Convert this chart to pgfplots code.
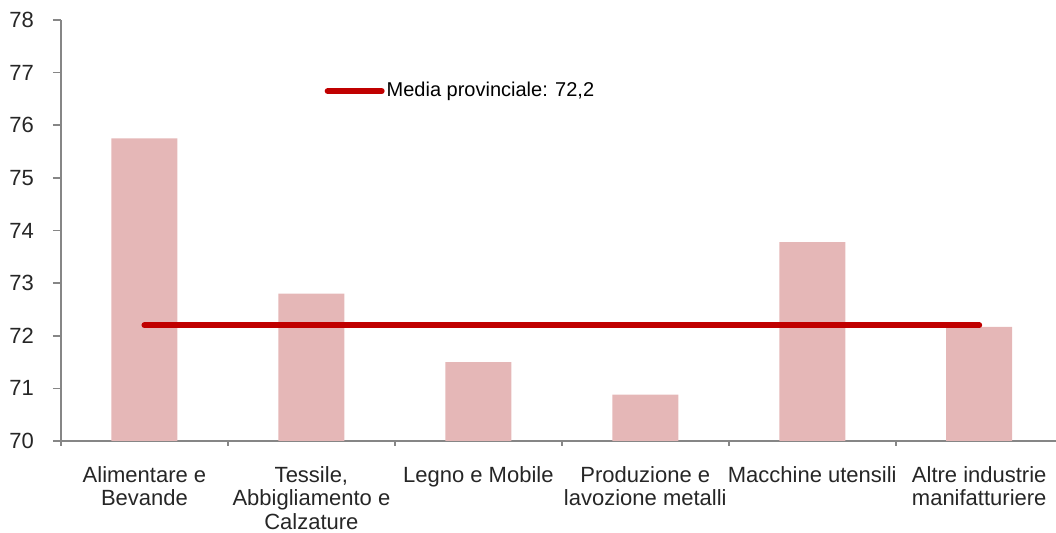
\documentclass[border=0pt]{standalone}
\usepackage{pgfplots}
\pgfplotsset{compat=1.18}
\usepackage{fontspec}
\setmainfont{Liberation Sans}
\definecolor{barpink}{RGB}{229,183,183}
\definecolor{linered}{RGB}{192,0,0}
\definecolor{axgray}{RGB}{134,134,134}
\begin{document}
\begin{tikzpicture}
\useasboundingbox (-30.5pt,-46pt) rectangle (497.5pt,220.5pt);
\begin{axis}[
  anchor=south west, at={(0pt,0pt)},
  scale only axis,
  width=497.5pt, height=210.5pt,
  xmin=-0.5, xmax=5.46,
  ymin=70, ymax=78,
  ytick={70,71,...,78},
  xtick={0,1,2,3,4,5},
  xticklabels={{Alimentare e\\Bevande}, {Tessile,\\Abbigliamento e\\Calzature}, {Legno e Mobile}, {Produzione e\\lavozione metalli}, {Macchine utensili}, {Altre industrie\\manifatturiere}},
  minor xtick={-0.5,0.5,1.5,2.5,3.5,4.5},
  axis x line*=bottom, axis y line*=left,
  axis line style={axgray, line width=0.8pt, -},
  major tick length=4pt,
  minor tick length=2.5pt,
  xtick style={draw=none},
  ytick style={draw=axgray, line width=0.8pt},
  minor x tick style={draw=axgray, line width=0.8pt},
  yticklabel style={font=\fontsize{11}{13}\selectfont, text=black!85, xshift=-6pt},
  xticklabel style={font=\fontsize{11}{11.8}\selectfont, text=black!85, align=center, yshift=-5pt},
  /pgf/number format/assume math mode=true,
  tick align=outside,
  legend style={at={(0.265,0.831)}, anchor=west, draw=none, fill=none, inner sep=0pt, outer sep=0pt, font=\fontsize{10}{12}\selectfont, nodes={inner xsep=1pt}, /tikz/every even column/.append style={column sep=0pt}},
  legend image code/.code={\draw[#1] (0pt,0pt) -- (27pt,0pt);},
  clip=false,
]
\addplot[ybar, bar width=33pt, fill=barpink, draw=none, forget plot] coordinates {
 (0,75.75) (1,72.8) (2,71.5) (3,70.88) (4,73.78) (5,72.17)
};
\addplot[linered, line width=3pt, line cap=round, mark=none] coordinates {(0,72.2) (5,72.2)};
\addlegendentry{Media provinciale: 72,2}
\end{axis}
\end{tikzpicture}
\end{document}
